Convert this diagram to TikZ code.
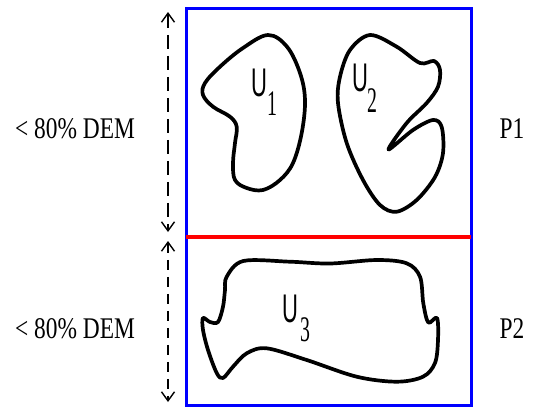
\documentclass[tikz,border=0pt]{standalone}
\usepackage{fontspec}
\setmainfont{Liberation Serif}
\newfontfamily\ulabfont{Liberation Sans}
\usetikzlibrary{arrows.meta}
\begin{document}
\begin{tikzpicture}[x=1pt,y=-1pt,
  blob/.style={line width=3.7pt,line join=round},
  dimarrow/.style={line width=1.4pt,{Straight Barb[length=9pt,width=13pt]}-{Straight Barb[length=9pt,width=13pt]}},
  sidetext/.style={font=\fontsize{30}{32}\selectfont,xscale=0.78,inner sep=0pt},
  ulab/.style={inner sep=0pt,xscale=0.55}
]
\useasboundingbox (0,0) rectangle (533,408);
% frame
\draw[blue,line width=3pt] (186,8) rectangle (471,405);
\coordinate (rl) at (186,236.5);
\coordinate (rr) at (471,236.5);
\draw[red,line width=4pt] (rl) -- (rr);
% arrows
\coordinate (a1t) at (168,12);
\coordinate (a1b) at (168,232);
\coordinate (a2t) at (168,241);
\coordinate (a2b) at (168,402);
\draw[dimarrow,dash pattern=on 14pt off 7pt] (a1t) -- (a1b);
\draw[dimarrow,dash pattern=on 10pt off 7pt] (a2t) -- (a2b);
% side labels
\node[sidetext] (l1) at (75,129) {< 80\% DEM};
\node[sidetext] (l2) at (75,329) {< 80\% DEM};
\node[sidetext] (p1) at (512,129) {P1};
\node[sidetext] (p2) at (512,329) {P2};
% U1
\draw[blob] plot[smooth cycle,tension=0.6] coordinates {
 (268,35) (287,46.7) (300,73) (305,100) (301.7,133) (293,163) (280,180)
 (263,190) (246.7,188) (235,180) (233,163) (235,143) (236.7,126.7)
 (230,116.7) (213,106.7) (203,95) (205,83) (220,66.7) (243,48)};
% U2
\draw[blob] plot[smooth cycle,tension=0.55] coordinates {
 (370,35) (396.7,46.7) (420,63) (434,61) (440,70) (438,86.7) (426.7,103)
 (406.7,123) (388.5,149.5) (413,130) (433,120) (441.7,127) (443,153)
 (435,177) (416.7,200) (396.7,211.7) (380,205) (363,180) (346.7,143)
 (338,103) (340,76.7) (350,50)};
% U3
\draw[blob] plot[smooth cycle,tension=0.55] coordinates {
 (226.7,276.7) (243.3,261) (290,261.7) (330,263.5) (376.7,260) (406.7,263.3)
 (420,276.7) (423.3,303.3) (428.3,322.5) (437,318) (438,340) (435,363)
 (423,376.7) (396.7,381.7) (356.7,376.7) (306.7,360) (266.7,348.3)
 (246.7,353.3) (233,366.7) (223,378) (216.7,373) (208,350) (203,330)
 (203,318) (210,322) (218,322) (223,306.7) (225,290)};
% U labels
\node[ulab] (u1) at (259,83) {\ulabfont\fontsize{40}{40}\selectfont U};
\node[ulab] (u1s) at (272,104) {\fontsize{36}{36}\selectfont 1};
\node[ulab] (u2) at (360,78) {\ulabfont\fontsize{40}{40}\selectfont U};
\node[ulab] (u2s) at (372,101) {\fontsize{36}{36}\selectfont 2};
\node[ulab] (u3) at (290,309) {\ulabfont\fontsize{40}{40}\selectfont U};
\node[ulab] (u3s) at (305,330) {\fontsize{36}{36}\selectfont 3};
\end{tikzpicture}
\end{document}
